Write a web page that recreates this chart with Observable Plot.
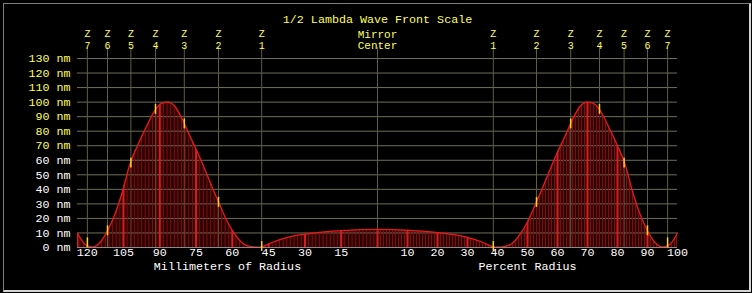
<!DOCTYPE html>
<html><head><meta charset="utf-8">
<script src="https://cdn.jsdelivr.net/npm/d3@7"></script>
<script src="https://cdn.jsdelivr.net/npm/@observablehq/plot@0.6"></script>
<style>
html,body{margin:0;padding:0;background:#000;}
#wrap{position:relative;width:752px;height:293px;overflow:hidden;background:#000;}
#frame{position:absolute;left:3px;top:3px;width:745px;height:286px;border-top:1px solid #7c7c7c;border-left:1px solid #7c7c7c;border-right:2px solid #d4d4d4;border-bottom:2px solid #d4d4d4;pointer-events:none;}
svg{display:block;position:absolute;left:0;top:0;}
</style></head><body><div id="wrap"><div id="frame"></div></div>
<script>
// ---- data ----
const radiusPct = [0, 5, 10, 15, 20, 25, 30, 35, 38.5, 40, 42.5, 45, 47.5, 50, 52.5, 55, 57.5, 60, 62.5, 65, 67.5, 70, 72.5, 75, 77.5, 80, 82.5, 85, 87.5, 90, 92.5, 95, 97.5, 100];
const waveNm    = [12.4, 12.3, 11.8, 11.2, 10.3, 9.0, 7.0, 3.6, 0.6, 0.2, 0.8, 3.0, 9.0, 17.5, 29, 41, 53.5, 65.5, 76.5, 88, 97, 100, 98.5, 91.5, 81, 70, 57.5, 38.5, 23, 11.5, 3.4, 0.3, 2.2, 10];
const mirrorRadiusMm = 124;
const zonePct    = [38.6, 53.0, 64.4, 74.0, 82.2, 90.0, 96.7];
const zoneNames  = ["1", "2", "3", "4", "5", "6", "7"];
const zoneNm     = [0.7, 31, 85, 95, 58, 11.5, 3.2];
const yTicks     = [0, 10, 20, 30, 40, 50, 60, 70, 80, 90, 100, 110, 120, 130];
const mmTicks    = [120, 105, 90, 75, 60, 45, 30, 15];
const pctTicks   = [10, 20, 30, 40, 50, 60, 70, 80, 90, 100];
const titleText  = "1/2 Lambda Wave Front Scale";

// ---- helpers ----
const mmToX = mm => -mm / mirrorRadiusMm * 100;
const curve = [
  ...radiusPct.map((p, i) => ({x: -p, y: waveNm[i]})).reverse(),
  ...radiusPct.map((p, i) => ({x: p, y: waveNm[i]})).slice(1)
];
const zones = [
  ...zonePct.map((p, i) => ({x: -p, v: zoneNm[i], name: zoneNames[i]})),
  ...zonePct.map((p, i) => ({x: p, v: zoneNm[i], name: zoneNames[i]}))
];
const fineHatch = [...d3.range(0, mirrorRadiusMm + 0.01, 1.5).map(mmToX), ...d3.range(1, 100.01, 1)];
const majorHatch = [-100, ...mmTicks.map(mmToX), 0, ...pctTicks];

const yellow = "#ffff55", white = "#ffffff";
const font = "'Liberation Mono','DejaVu Sans Mono',monospace";
const fs = 11.7;
const fsTop = 10;

const svg = Plot.plot({
  width: 752, height: 293,
  marginLeft: 77, marginRight: 75, marginTop: 58, marginBottom: 46,
  style: {background: "transparent", color: white, fontFamily: font, fontSize: fs + "px"},
  x: {domain: [-100, 100], axis: null},
  y: {domain: [0, 130], axis: null},
  marks: [
    Plot.areaY(curve, {x: "x", y: "y", fill: "#2c0303", curve: "monotone-x", ariaDescription: "fillarea"}),
    Plot.ruleY(yTicks.filter(d => d > 0), {stroke: "#6e6e5a", strokeWidth: 1}),
    Plot.ruleX([0, ...zones.map(d => d.x)], {stroke: "#5e5e3c", strokeWidth: 1, insetTop: -11}),
    Plot.ruleX(fineHatch, {stroke: "#7e0e0e", strokeWidth: 1, ariaDescription: "hatch"}),
    Plot.ruleX(majorHatch, {stroke: "#dc1c1c", strokeWidth: 2, ariaDescription: "hatch"}),
    Plot.lineY(curve, {x: "x", y: "y", stroke: "#e61a1a", strokeWidth: 1.3, curve: "monotone-x"}),
    Plot.ruleY([0], {stroke: "#8c8c8c", strokeWidth: 1}),
    Plot.ruleX(zones, {x: "x", y1: d => d.v - 3.4, y2: d => d.v + 3.4, stroke: "#ffd21f", strokeWidth: 1.5}),
    // y labels
    Plot.text(yTicks.filter(d => d >= 70), {x: -100, y: d => d, text: d => `${d} nm`, textAnchor: "end", dx: -7, fill: yellow}),
    Plot.text(yTicks.filter(d => d < 70), {x: -100, y: d => d, text: d => `${d} nm`, textAnchor: "end", dx: -7, fill: white}),
    // bottom tick labels
    Plot.text(mmTicks, {x: mmToX, text: d => String(d), frameAnchor: "bottom", dy: 8.5, fill: white}),
    Plot.text(pctTicks, {x: d => d, text: d => String(d), frameAnchor: "bottom", dy: 8.5, fill: white}),
    Plot.text(["Millimeters of Radius"], {x: -50, text: d => d, frameAnchor: "bottom", dy: 22.5, fill: white}),
    Plot.text(["Percent Radius"], {x: 50, text: d => d, frameAnchor: "bottom", dy: 22.5, fill: white}),
    // top labels
    Plot.text(zones, {x: "x", text: () => "Z", frameAnchor: "top", dy: -28.5, fill: yellow, fontSize: fsTop}),
    Plot.text(zones, {x: "x", text: "name", frameAnchor: "top", dy: -17, fill: yellow, fontSize: fsTop}),
    Plot.text(["Mirror"], {x: 0, text: d => d, frameAnchor: "top", dy: -28.5, fill: yellow, fontSize: fsTop + 1}),
    Plot.text(["Center"], {x: 0, text: d => d, frameAnchor: "top", dy: -17, fill: yellow, fontSize: fsTop + 1}),
    Plot.text([titleText], {x: 0, text: d => d, frameAnchor: "top", dy: -44, fill: yellow})
  ]
});

// clip hatch rules to the filled area
const ns = "http://www.w3.org/2000/svg";
const areaG = svg.querySelector('g[aria-description="fillarea"]');
const areaPath = areaG && areaG.querySelector("path");
if (areaPath) {
  const defs = document.createElementNS(ns, "defs");
  const cp = document.createElementNS(ns, "clipPath");
  cp.setAttribute("id", "fillclip");
  const p = document.createElementNS(ns, "path");
  p.setAttribute("d", areaPath.getAttribute("d"));
  if (areaG.getAttribute("transform")) p.setAttribute("transform", areaG.getAttribute("transform"));
  cp.appendChild(p); defs.appendChild(cp);
  svg.insertBefore(defs, svg.firstChild);
  const hatchGroups = [...svg.querySelectorAll('g[aria-description="hatch"]')];
  if (hatchGroups.length) {
    const wrapG = document.createElementNS(ns, "g");
    wrapG.setAttribute("clip-path", "url(#fillclip)");
    hatchGroups[0].parentNode.insertBefore(wrapG, hatchGroups[0]);
    hatchGroups.forEach(g => wrapG.appendChild(g));
  }
}
document.getElementById("wrap").insertBefore(svg, document.getElementById("frame"));
</script></body></html>
